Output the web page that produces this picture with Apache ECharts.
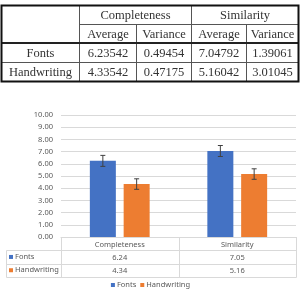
<!DOCTYPE html>
<html>
<head>
<meta charset="utf-8">
<script src="https://cdn.jsdelivr.net/npm/echarts@6/dist/echarts.min.js"></script>
<style>
  html, body { margin: 0; padding: 0; background: #fff; }
  #chart { width: 301px; height: 299px; }
</style>
</head>
<body>
<div id="chart"></div>
<script>
// top table
const tableGroups = ["Completeness", "Similarity"];
const tableStats = ["Average", "Variance"];
const tableRows = ["Fonts", "Handwriting"];
const fontsStats = ["6.23542", "0.49454", "7.04792", "1.39061"];
const handStats = ["4.33542", "0.47175", "5.16042", "3.01045"];

// bar chart
const categories = ["Completeness", "Similarity"];
const fontsValues = [6.24, 7.05];
const handValues = [4.34, 5.16];
const fontsErr = [0.45, 0.45];
const handErr = [0.43, 0.43];
const yTicks = [0, 10, 1];

const BLUE = "#4472C4";
const ORANGE = "#ED7D31";
const TEXT = "#595959";
const GRID = "#d9d9d9";
const BAR_W = 26;
const BAR_GAP = 0.3;
const ROW_H = 13.3;
const chartFont = "Noto Sans";

const chartDom = echarts.init(document.getElementById("chart"));

const errorSeries = (vals, errs, side, name) => ({
  type: "custom",
  name: name + "-err",
  z: 5,
  silent: true,
  data: vals.map((v, i) => [i, v, errs[i]]),
  renderItem(params, api) {
    const off = side * (BAR_W + BAR_W * BAR_GAP) / 2;
    const top = api.coord([api.value(0), api.value(1) + api.value(2)]);
    const bot = api.coord([api.value(0), api.value(1) - api.value(2)]);
    const x = top[0] + off;
    const style = { stroke: "#404040", lineWidth: 1 };
    return {
      type: "group",
      children: [
        { type: "line", shape: { x1: x, y1: top[1], x2: x, y2: bot[1] }, style },
        { type: "line", shape: { x1: x - 2.5, y1: top[1], x2: x + 2.5, y2: top[1] }, style },
        { type: "line", shape: { x1: x - 2.5, y1: bot[1], x2: x + 2.5, y2: bot[1] }, style }
      ]
    };
  }
});

chartDom.setOption({
  animation: false,
  textStyle: { fontFamily: chartFont },
  grid: { left: 61, right: 5, top: 115, bottom: 62 },
  legend: {
    data: ["Fonts", "Handwriting"],
    bottom: 5,
    left: "center",
    icon: "rect",
    itemWidth: 4,
    itemHeight: 4,
    itemGap: 4,
    textStyle: { fontSize: 7.5, color: TEXT, fontFamily: chartFont, padding: [0, 0, 0, -3] }
  },
  xAxis: {
    type: "category",
    data: categories,
    axisLine: { lineStyle: { color: GRID } },
    axisTick: { show: false },
    axisLabel: {
      interval: 0,
      margin: 1,
      formatter(value, idx) {
        return `{c|${value}}\n{v|${fontsValues[idx].toFixed(2)}}\n{v|${handValues[idx].toFixed(2)}}`;
      },
      rich: {
        c: { fontSize: 7.5, lineHeight: ROW_H, color: TEXT, fontFamily: chartFont },
        v: { fontSize: 7.5, lineHeight: ROW_H, color: TEXT, fontFamily: chartFont }
      }
    }
  },
  yAxis: {
    type: "value",
    min: yTicks[0],
    max: yTicks[1],
    interval: yTicks[2],
    axisLine: { show: false },
    axisTick: { show: false },
    splitLine: { lineStyle: { color: GRID } },
    axisLabel: {
      margin: 8,
      fontSize: 7.5,
      color: TEXT,
      formatter: v => v.toFixed(2)
    }
  },
  series: [
    { name: "Fonts", type: "bar", data: fontsValues, barWidth: BAR_W, barGap: BAR_GAP * 100 + "%", itemStyle: { color: BLUE } },
    { name: "Handwriting", type: "bar", data: handValues, barWidth: BAR_W, itemStyle: { color: ORANGE } },
    errorSeries(fontsValues, fontsErr, -1, "Fonts"),
    errorSeries(handValues, handErr, 1, "Handwriting")
  ]
});

// table graphics
const line = (x1, y1, x2, y2, w, c) => ({
  type: "line",
  silent: true,
  shape: { x1, y1, x2, y2 },
  style: { stroke: c || "#555", lineWidth: w || 1 }
});
const text = (x, y, s, opts) => ({
  type: "text",
  silent: true,
  x, y,
  style: Object.assign({
    text: s,
    align: "center",
    verticalAlign: "middle",
    fill: "#333",
    font: "12.5px 'Liberation Serif'"
  }, opts || {})
});

const els = [];
// top table layout
const cols = [1.5, 79.5, 136.5, 191.5, 246.5, 298.5];
const rows = [5.5, 24.5, 43, 62.5, 81.5];
// inner lines
els.push(line(cols[0], rows[3], cols[5], rows[3]));
els.push(line(cols[1], rows[1], cols[5], rows[1]));
els.push(line(cols[1], rows[0], cols[1], rows[4]));
els.push(line(cols[3], rows[0], cols[3], rows[4]));
els.push(line(cols[2], rows[1], cols[2], rows[4]));
els.push(line(cols[4], rows[1], cols[4], rows[4]));
els.push(line(cols[0], rows[2], cols[5], rows[2], 2, "#222"));
// outer border
els.push({
  type: "rect",
  silent: true,
  shape: { x: cols[0], y: rows[0], width: cols[5] - cols[0], height: rows[4] - rows[0] },
  style: { fill: null, stroke: "#111", lineWidth: 2 }
});
tableGroups.forEach((g, i) => {
  els.push(text((cols[1 + i * 2] + cols[3 + i * 2]) / 2, (rows[0] + rows[1]) / 2 + 0.5, g));
  tableStats.forEach((s, j) => {
    const c = 1 + i * 2 + j;
    els.push(text((cols[c] + cols[c + 1]) / 2, (rows[1] + rows[2]) / 2 + 0.5, s));
  });
});
[fontsStats, handStats].forEach((vals, r) => {
  const yc = (rows[2 + r] + rows[3 + r]) / 2 + 0.5;
  els.push(text((cols[0] + cols[1]) / 2, yc, tableRows[r]));
  vals.forEach((v, c) => {
    els.push(text((cols[c + 1] + cols[c + 2]) / 2, yc, v));
  });
});

// chart data table lines, positioned from the axes
const x0 = chartDom.convertToPixel({ xAxisIndex: 0 }, 0);
const x1 = chartDom.convertToPixel({ xAxisIndex: 0 }, 1);
const band = x1 - x0;
const y0 = chartDom.convertToPixel({ yAxisIndex: 0 }, 0);
const bounds = [x0 - band / 2, x0 + band / 2, x1 + band / 2].map(v => Math.round(v) + 0.5);
const yb = Math.round(y0 + 3 * ROW_H) + 0.5;
bounds.forEach(bx => els.push(line(bx, y0, bx, yb, 1, GRID)));
const leftX = 6.5;
[1, 2, 3].forEach(k => {
  const yy = Math.round(y0 + k * ROW_H) + 0.5;
  els.push(line(leftX, yy, bounds[2], yy, 1, GRID));
});
els.push(line(leftX, Math.round(y0 + ROW_H) + 0.5, leftX, yb, 1, GRID));
[[tableRows[0], BLUE], [tableRows[1], ORANGE]].forEach(([name, color], r) => {
  const yc = y0 + (r + 1.5) * ROW_H;
  els.push({ type: "rect", silent: true, shape: { x: 9, y: yc - 2, width: 4, height: 4 }, style: { fill: color } });
  els.push(text(15, yc, name, { align: "left", fill: TEXT, font: "7.5px 'Noto Sans'" }));
});

chartDom.setOption({ graphic: { elements: els } });
</script>
</body>
</html>
